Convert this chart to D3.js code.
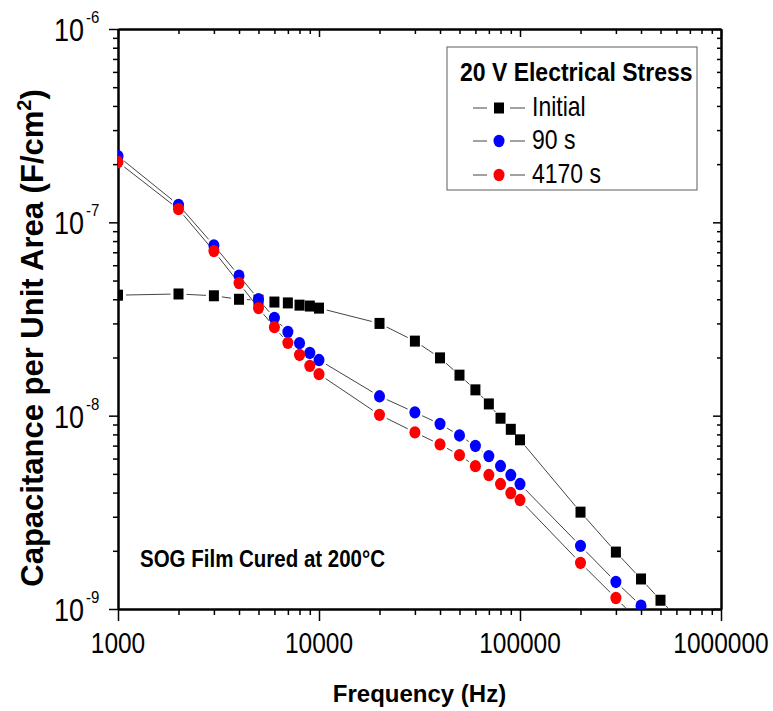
<!DOCTYPE html>
<html>
<head>
<meta charset="utf-8">
<script src="https://cdn.jsdelivr.net/npm/d3@7"></script>
<style>
  body { margin: 0; background: #fff; }
  svg { display: block; font-family: "Liberation Sans", Arial, sans-serif; }
</style>
</head>
<body>
<div class="canva"></div>
<script>
// frequencies (Hz) shared by all series
const freq = [1000, 2000, 3000, 4000, 5000, 6000, 7000, 8000, 9000, 10000,
              20000, 30000, 40000, 50000, 60000, 70000, 80000, 90000, 100000,
              200000, 300000, 400000, 500000, 600000];

// capacitance per unit area (F/cm^2)
const initial = [4.2e-8, 4.26e-8, 4.17e-8, 4.0e-8, 3.96e-8, 3.87e-8, 3.83e-8, 3.73e-8, 3.69e-8, 3.6e-8,
                 3.0e-8, 2.43e-8, 1.99e-8, 1.62e-8, 1.36e-8, 1.15e-8, 9.7e-9, 8.5e-9, 7.5e-9,
                 3.17e-9, 1.97e-9, 1.43e-9, 1.11e-9, 9.1e-10];
const stress90 = [2.2e-7, 1.23e-7, 7.6e-8, 5.3e-8, 4.0e-8, 3.2e-8, 2.71e-8, 2.37e-8, 2.11e-8, 1.94e-8,
                  1.26e-8, 1.04e-8, 9.06e-9, 7.9e-9, 6.97e-9, 6.18e-9, 5.49e-9, 4.93e-9, 4.43e-9,
                  2.12e-9, 1.38e-9, 1.04e-9, 8.3e-10];
const stress4170 = [2.05e-7, 1.17e-7, 7.1e-8, 4.85e-8, 3.6e-8, 2.87e-8, 2.38e-8, 2.06e-8, 1.81e-8, 1.64e-8,
                    1.01e-8, 8.2e-9, 7.1e-9, 6.25e-9, 5.48e-9, 4.93e-9, 4.43e-9, 3.98e-9, 3.66e-9,
                    1.73e-9, 1.14e-9, 8.4e-10];

const seriesNames = ['Initial', '90 s', '4170 s'];
const xMajor = [1e3, 1e4, 1e5, 1e6];
const xLabels = ['1000', '10000', '100000', '1000000'];
const yMajor = [1e-9, 1e-8, 1e-7, 1e-6];
const yExp = ['-9', '-8', '-7', '-6'];

const W = 773, H = 711;
const margin = { top: 29, right: 52, bottom: 102, left: 118 };

const svg = d3.select('.canva').append('svg')
  .attr('width', W)
  .attr('height', H);

const x = d3.scaleLog().domain([1e3, 1e6]).range([margin.left, W - margin.right]);
const y = d3.scaleLog().domain([1e-9, 1e-6]).range([H - margin.bottom, margin.top]);

const minor = (decades) => decades.slice(0, -1).flatMap(d => d3.range(2, 10).map(k => d * k));
const xMinor = minor(xMajor);
const yMinor = minor(yMajor);

// stretched text helper (reference text is drawn taller than wide)
function label(sel, px, py, str, size, weight, sx, sy, anchor) {
  return sel.append('text')
    .attr('transform', `translate(${px},${py}) scale(${sx},${sy})`)
    .attr('font-size', size)
    .attr('font-weight', weight)
    .attr('text-anchor', anchor)
    .attr('fill', '#000')
    .text(str);
}

// clip for data
svg.append('clipPath').attr('id', 'plot')
  .append('rect')
  .attr('x', x.range()[0]).attr('y', y.range()[1])
  .attr('width', x.range()[1] - x.range()[0])
  .attr('height', y.range()[0] - y.range()[1]);

// axes: ticks only, labels drawn by hand below
function axisGroup(axis, tx, ty) {
  const g = svg.append('g').attr('transform', `translate(${tx},${ty})`).call(axis);
  g.selectAll('text').remove();
  g.select('.domain').attr('stroke-width', 2);
  g.selectAll('.tick line').attr('stroke-width', 1.5);
  return g;
}
const y0 = y.range()[0], y1 = y.range()[1];
const x0 = x.range()[0], x1 = x.range()[1];

axisGroup(d3.axisBottom(x).tickValues(xMinor).tickSize(6).tickSizeOuter(0), 0, y0);
axisGroup(d3.axisBottom(x).tickValues(xMajor).tickSize(12).tickSizeOuter(0), 0, y0);
axisGroup(d3.axisBottom(x).tickValues(xMinor).tickSize(5).tickSizeOuter(0), 0, y1);
axisGroup(d3.axisBottom(x).tickValues(xMajor).tickSize(8).tickSizeOuter(0), 0, y1);
axisGroup(d3.axisLeft(y).tickValues(yMinor).tickSize(5).tickSizeOuter(0), x0, 0);
axisGroup(d3.axisLeft(y).tickValues(yMajor).tickSize(9).tickSizeOuter(0), x0, 0);
axisGroup(d3.axisLeft(y).tickValues(yMinor).tickSize(4).tickSizeOuter(0), x1, 0);
axisGroup(d3.axisLeft(y).tickValues(yMajor).tickSize(8).tickSizeOuter(0), x1, 0);

// tick labels
xMajor.forEach((v, i) => label(svg, x(v), 653, xLabels[i], 24.5, 'normal', 1, 1.2, 'middle'));
yMajor.forEach((v, i) => {
  label(svg, 84, y(v) + 12, '10', 27, 'normal', 1, 1.15, 'end');
  label(svg, 86, y(v) - 6, yExp[i], 15, 'normal', 1, 1.1, 'start');
});

// axis titles
label(svg, (x0 + x1) / 2, 702, 'Frequency (Hz)', 24, 'bold', 1, 1, 'middle');
const yt = svg.append('text')
  .attr('transform', `translate(43,${(y0 + y1) / 2 + 19}) rotate(-90)`)
  .attr('font-size', 31).attr('font-weight', 'bold').attr('text-anchor', 'middle');
yt.append('tspan').text('Capacitance per Unit Area (F/cm');
yt.append('tspan').attr('font-size', 20).attr('dy', -12).text('2');
yt.append('tspan').attr('dy', 12).text(')');

// annotation
label(svg, 140, 567, 'SOG Film Cured at 200°C', 20.5, 'bold', 1, 1.16, 'start');

// data lines with gaps around symbols
const plot = svg.append('g').attr('clip-path', 'url(#plot)');
function gapSegments(vals, gap) {
  const pts = vals.map((v, i) => [x(freq[i]), y(v)]);
  const segs = [];
  for (let i = 0; i < pts.length - 1; i++) {
    const [ax, ay] = pts[i], [bx, by] = pts[i + 1];
    const dx = bx - ax, dy = by - ay, L = Math.hypot(dx, dy);
    if (L <= 2 * gap) continue;
    segs.push([ax + dx / L * gap, ay + dy / L * gap, bx - dx / L * gap, by - dy / L * gap]);
  }
  return segs;
}
[initial, stress90, stress4170].forEach(vals => {
  plot.append('g').selectAll('line')
    .data(gapSegments(vals, 8))
    .enter().append('line')
    .attr('x1', d => d[0]).attr('y1', d => d[1])
    .attr('x2', d => d[2]).attr('y2', d => d[3])
    .attr('stroke', '#444').attr('stroke-width', 1);
});

// symbols
plot.append('g').selectAll('rect')
  .data(initial)
  .enter().append('rect')
  .attr('x', (d, i) => x(freq[i]) - 5)
  .attr('y', d => y(d) - 5.5)
  .attr('width', 10).attr('height', 11)
  .attr('fill', '#000');

plot.append('g').selectAll('ellipse')
  .data(stress90)
  .enter().append('ellipse')
  .attr('cx', (d, i) => x(freq[i]))
  .attr('cy', d => y(d))
  .attr('rx', 5.5).attr('ry', 6.2)
  .attr('fill', '#0000ff');

plot.append('g').selectAll('ellipse')
  .data(stress4170)
  .enter().append('ellipse')
  .attr('cx', (d, i) => x(freq[i]))
  .attr('cy', d => y(d))
  .attr('rx', 5.5).attr('ry', 6.2)
  .attr('fill', '#ff0000');

// legend
const legend = svg.append('g');
legend.append('rect')
  .attr('x', 447).attr('y', 47).attr('width', 250).attr('height', 143)
  .attr('fill', '#fff').attr('stroke', '#777').attr('stroke-width', 1.2);
label(legend, 460, 81, '20 V Electrical Stress', 23, 'bold', 1, 1.1, 'start');
const rowY = [108, 141, 175];
const rowColor = ['#000', '#0000ff', '#ff0000'];
seriesNames.forEach((name, i) => {
  const cy = rowY[i];
  legend.append('line').attr('x1', 473).attr('x2', 487).attr('y1', cy).attr('y2', cy)
    .attr('stroke', '#444').attr('stroke-width', 1);
  legend.append('line').attr('x1', 510).attr('x2', 525).attr('y1', cy).attr('y2', cy)
    .attr('stroke', '#444').attr('stroke-width', 1);
  if (i === 0) {
    legend.append('rect').attr('x', 494).attr('y', cy - 5.5).attr('width', 10).attr('height', 11)
      .attr('fill', rowColor[i]);
  } else {
    legend.append('ellipse').attr('cx', 499).attr('cy', cy).attr('rx', 5.5).attr('ry', 6.2)
      .attr('fill', rowColor[i]);
  }
  label(legend, 532, cy + 8, name, 23, 'normal', 1, 1.2, 'start');
});
</script>
</body>
</html>
